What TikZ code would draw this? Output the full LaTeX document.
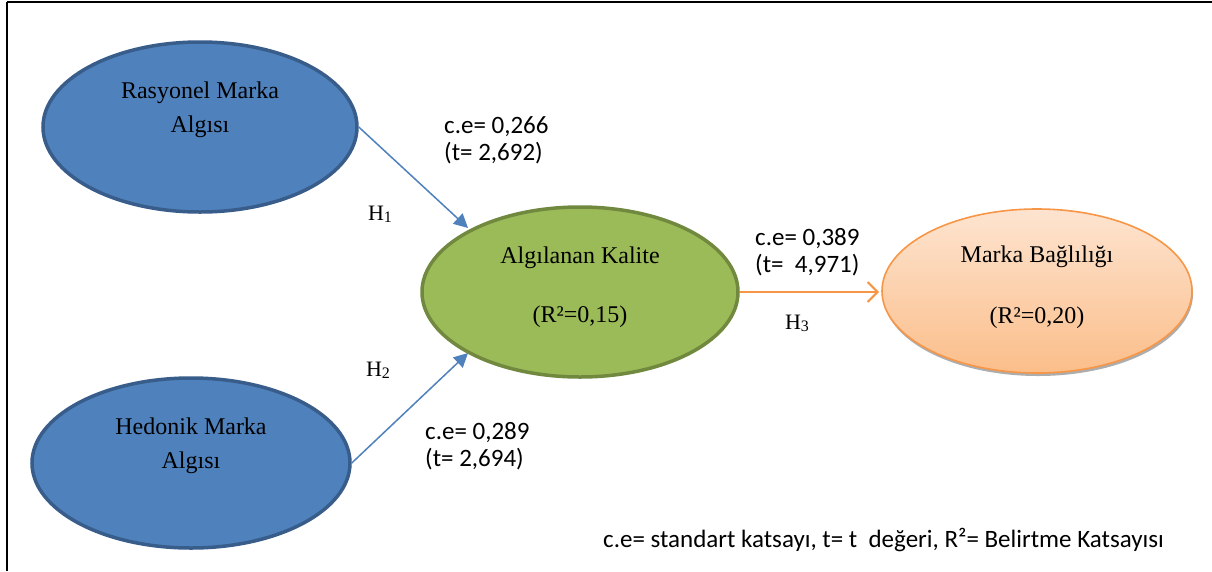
\documentclass[tikz,border=0pt]{standalone}
\usepackage{fontspec}
\setmainfont{Liberation Serif}
\newfontfamily\labelfont{Carlito}
\usetikzlibrary{shapes.geometric,arrows.meta,shadows}
\definecolor{blueFill}{HTML}{4F81BD}
\definecolor{blueEdge}{HTML}{385D8A}
\definecolor{greenFill}{HTML}{9BBB59}
\definecolor{greenEdge}{HTML}{71893F}
\definecolor{orangeEdge}{HTML}{F79646}
\definecolor{orangeTop}{HTML}{FDE4D0}
\definecolor{orangeBot}{HTML}{FBBE8A}
\newcommand{\hsub}[1]{H\raisebox{-2pt}{\fontsize{16}{16}\selectfont #1}}
\tikzset{
  construct/.style={ellipse, minimum width=#1, inner sep=0pt, align=center},
  bluenode/.style={construct=314pt, minimum height=170pt, draw=blueEdge, line width=3.5pt, fill=blueFill},
  greennode/.style={construct=316pt, minimum height=170pt, draw=greenEdge, line width=3.5pt, fill=greenFill},
  orangenode/.style={construct=310pt, minimum height=164pt, draw=orangeEdge, line width=1.6pt,
    top color=orangeTop, bottom color=orangeBot,
    drop shadow={shadow xshift=1pt, shadow yshift=-3pt, fill=black!40, opacity=0.8}},
  inner text/.style={font=\fontsize{24}{34}\selectfont, align=center, inner sep=0pt},
  path label/.style={font=\labelfont\fontsize{25}{27}\selectfont, align=left, inner sep=0pt},
  hyp/.style={font=\fontsize{22}{24}\selectfont, inner sep=0pt},
  bluearrow/.style={draw=blueFill, line width=1.5pt, -{Triangle[length=14pt, width=14pt]}},
  orangearrow/.style={draw=orangeEdge, line width=2pt, -{Straight Barb[length=10pt, width=20pt, line width=2pt]}},
}
\begin{document}
\begin{tikzpicture}[x=1pt, y=-1pt]
\useasboundingbox (0,0) rectangle (1212,571);
\fill[white] (0,0) rectangle (1212,571);
% frame lines along the top and the left side
\draw[line width=2pt] (7,2) -- (1212,2);
\draw[line width=2pt] (7,2) -- (7,571);

% constructs
\node[bluenode] (rasyonel) at (200,127) {};
\node[bluenode, minimum width=318pt] (hedonik) at (191,463) {};
\node[greennode] (kalite) at (580,292) {};
\node[orangenode] (baglilik) at (1037,291) {};

% texts inside the constructs
\node[inner text] (rasyonelText) at (200,110) {Rasyonel Marka\\Algısı};
\node[inner text] (hedonikText) at (191,446) {Hedonik Marka\\Algısı};
\node[inner text] (kaliteName) at (580,258) {Algılanan Kalite};
\node[inner text] (kaliteR) at (580,317) {(R²=0,15)};
\node[inner text] (baglilikName) at (1037,257) {Marka Bağlılığı};
\node[inner text] (baglilikR) at (1037,318) {(R²=0,20)};

% paths
\coordinate (h1end) at (468,228);
\coordinate (h2end) at (468,353);
\coordinate (h3end) at (879,292);
\draw[bluearrow] (rasyonel.east) -- (h1end);
\draw[bluearrow] (hedonik.east) -- (h2end);
\draw[orangearrow] (kalite.east) -- (h3end);

% path labels
\node[path label, anchor=west] (l1) at (444,140) {c.e= 0,266\\(t= 2,692)};
\node[path label, anchor=west] (l2) at (425,446) {c.e= 0,289\\(t= 2,694)};
\node[path label, anchor=west] (l3) at (755,252) {c.e= 0,389\\(t=\ \ 4,971)};
\node[hyp] (H1) at (380,214) {\hsub{1}};
\node[hyp] (H2) at (378,370) {\hsub{2}};
\node[hyp] (H3) at (797,323) {\hsub{3}};

% legend
\node[path label, anchor=west] (legend) at (603,540) {c.e= standart katsayı, t= t\ \ değeri, R²= Belirtme Katsayısı};
\end{tikzpicture}
\end{document}
